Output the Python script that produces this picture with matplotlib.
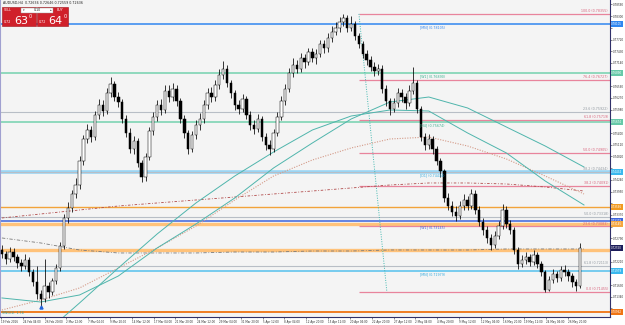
import matplotlib
matplotlib.use("Agg")
import matplotlib.pyplot as plt
import numpy as np
from matplotlib.patches import Rectangle
from matplotlib.ticker import MultipleLocator, FuncFormatter
from matplotlib.transforms import blended_transform_factory

# ---------------- data ----------------
title_text = "AUDUSD,H4  0.72636 0.72646 0.72559 0.72636"

first_open = 0.7250
closes = [0.7240,0.7228,0.7245,0.7232,0.7218,0.7210,0.7225,0.7195,0.7170,0.7140,
0.7128,0.7160,0.7145,0.7172,0.7205,0.7260,0.7330,0.7355,0.7390,0.7410,
0.7470,0.7525,0.7548,0.7530,0.7585,0.7610,0.7595,0.7640,0.7662,0.7630,
0.7618,0.7575,0.7540,0.7500,0.7520,0.7465,0.7430,0.7480,0.7545,0.7580,
0.7610,0.7598,0.7645,0.7630,0.7650,0.7620,0.7575,0.7540,0.7500,0.7535,
0.7560,0.7575,0.7610,0.7640,0.7630,0.7660,0.7685,0.7700,0.7665,0.7640,
0.7610,0.7600,0.7625,0.7585,0.7560,0.7550,0.7575,0.7530,0.7510,0.7500,
0.7540,0.7580,0.7620,0.7650,0.7690,0.7710,0.7700,0.7725,0.7715,0.7740,
0.7725,0.7735,0.7760,0.7750,0.7775,0.7790,0.7800,0.7815,0.7825,0.7800,
0.7810,0.7780,0.7760,0.7735,0.7720,0.7705,0.7695,0.7700,0.7650,0.7620,
0.7600,0.7615,0.7640,0.7630,0.7615,0.7645,0.7665,0.7600,0.7530,0.7510,
0.7525,0.7500,0.7470,0.7445,0.7380,0.7360,0.7345,0.7335,0.7360,0.7375,
0.7360,0.7390,0.7350,0.7320,0.7300,0.7280,0.7262,0.7285,0.7310,0.7350,
0.7315,0.7300,0.7250,0.7215,0.7225,0.7232,0.7220,0.7238,0.7215,0.7195,
0.7152,0.7175,0.7190,0.7180,0.7200,0.7195,0.7185,0.7170,0.7160,0.7255]
highs = [0.7262,0.7248,0.7258,0.7255,0.7240,0.7228,0.7240,0.7232,0.7202,0.7210,
0.7150,0.7228,0.7170,0.7180,0.7215,0.7270,0.7340,0.7368,0.7400,0.7428,
0.7482,0.7535,0.7562,0.7558,0.7595,0.7625,0.7622,0.7652,0.7680,0.7670,
0.7642,0.7625,0.7585,0.7552,0.7532,0.7528,0.7472,0.7490,0.7555,0.7592,
0.7622,0.7625,0.7660,0.7658,0.7665,0.7660,0.7628,0.7585,0.7548,0.7545,
0.7572,0.7590,0.7622,0.7652,0.7655,0.7672,0.7698,0.7718,0.7708,0.7672,
0.7648,0.7622,0.7638,0.7632,0.7595,0.7572,0.7588,0.7582,0.7540,0.7522,
0.7550,0.7592,0.7632,0.7662,0.7702,0.7725,0.7722,0.7738,0.7735,0.7752,
0.7750,0.7748,0.7772,0.7770,0.7788,0.7805,0.7815,0.7828,0.7835,0.7832,
0.7830,0.7818,0.7788,0.7768,0.7745,0.7730,0.7715,0.7712,0.7708,0.7658,
0.7628,0.7628,0.7652,0.7650,0.7640,0.7658,0.7705,0.7672,0.7608,0.7540,
0.7538,0.7532,0.7508,0.7478,0.7450,0.7392,0.7372,0.7358,0.7372,0.7390,
0.7385,0.7402,0.7398,0.7358,0.7330,0.7310,0.7290,0.7298,0.7322,0.7365,
0.7358,0.7325,0.7308,0.7258,0.7238,0.7245,0.7240,0.7250,0.7245,0.7222,
0.7200,0.7185,0.7202,0.7198,0.7210,0.7212,0.7202,0.7192,0.7178,0.7268]
lows = [0.7230,0.7215,0.7220,0.7222,0.7205,0.7198,0.7202,0.7185,0.7160,0.7128,
0.7112,0.7120,0.7130,0.7138,0.7165,0.7198,0.7252,0.7318,0.7345,0.7380,
0.7402,0.7460,0.7515,0.7518,0.7522,0.7575,0.7582,0.7588,0.7630,0.7620,
0.7605,0.7565,0.7530,0.7490,0.7488,0.7455,0.7418,0.7422,0.7472,0.7535,
0.7570,0.7585,0.7590,0.7618,0.7620,0.7608,0.7565,0.7528,0.7488,0.7492,
0.7525,0.7548,0.7565,0.7600,0.7618,0.7620,0.7650,0.7675,0.7655,0.7628,
0.7598,0.7588,0.7592,0.7575,0.7548,0.7538,0.7542,0.7520,0.7498,0.7485,
0.7492,0.7532,0.7572,0.7610,0.7642,0.7680,0.7688,0.7692,0.7702,0.7708,
0.7715,0.7712,0.7728,0.7738,0.7742,0.7765,0.7782,0.7790,0.7805,0.7790,
0.7792,0.7770,0.7750,0.7725,0.7708,0.7695,0.7682,0.7685,0.7640,0.7608,
0.7585,0.7592,0.7605,0.7618,0.7600,0.7608,0.7638,0.7590,0.7520,0.7498,
0.7500,0.7488,0.7460,0.7432,0.7370,0.7348,0.7335,0.7322,0.7328,0.7350,
0.7348,0.7352,0.7340,0.7310,0.7288,0.7268,0.7250,0.7255,0.7278,0.7302,
0.7305,0.7290,0.7240,0.7202,0.7208,0.7215,0.7210,0.7212,0.7205,0.7185,
0.7145,0.7148,0.7168,0.7170,0.7172,0.7185,0.7172,0.7158,0.7148,0.7155]

ma_bars = [0,10,20,30,40,50,60,70,80,90,100,110,120,130,140,150]
ma_teal_slow = [0.71310,0.71210,0.71384,0.71855,0.72550,0.73145,0.73790,0.74534,
                0.75154,0.75749,0.76170,0.76294,0.76022,0.75550,0.75079,0.74558]
ma_fast_bars = [10,20,30,40,50,60,70,80,90,100,110,120,130,140,150]
ma_teal_fast = [0.70342,0.71186,0.72054,0.72897,0.73666,0.74335,0.74930,0.75476,
                0.75823,0.75972,0.75947,0.75402,0.74906,0.74211,0.73616]
ma_salmon = [0.71012,0.71260,0.71558,0.72054,0.72550,0.73095,0.73740,0.74335,
             0.74732,0.75030,0.75253,0.75302,0.75079,0.74757,0.74335,0.73889]
ma_darkred = [0.73294,0.73393,0.73492,0.73591,0.73666,0.73740,0.73814,0.73889,
              0.73963,0.74038,0.74112,0.74162,0.74162,0.74137,0.74062,0.73963]
ma_gray = [0.72798,0.72674,0.72500,0.72426,0.72426,0.72426,0.72450,0.72450,
           0.72475,0.72475,0.72500,0.72500,0.72500,0.72525,0.72525,0.72525]

fib_high = 0.78355
fib_low = 0.71455
fib_anchor_bars = [92, 99.2]
fib_levels = [100.0, 76.4, 61.8, 50.0, 38.2, 23.6, 0.0]

fib2_levels = ["23.6", "38.2", "50.0", "61.8"]
fib2_prices = [0.75922, 0.74434, 0.73318, 0.72113]

level_prices = [0.78105, 0.76890, 0.75674, 0.74434, 0.73566, 0.73219, 0.73145, 0.72500, 0.71979, 0.70962]
level_names = ["[MN]", "[W1]", "[H4]", "[D1]", "", "", "[W1]", "", "[MN]", ""]

current_price = 0.72550
xtick_labels = ["19 Feb 2016", "24 Feb 04:00", "26 Feb 20:00", "2 Mar 12:00", "7 Mar 04:00",
                "9 Mar 20:00", "14 Mar 12:00", "17 Mar 04:00", "21 Mar 20:00", "24 Mar 12:00",
                "29 Mar 04:00", "31 Mar 20:00", "5 Apr 12:00", "8 Apr 04:00", "12 Apr 20:00",
                "15 Apr 12:00", "20 Apr 04:00", "22 Apr 20:00", "27 Apr 12:00", "2 May 04:00",
                "4 May 20:00", "9 May 12:00", "12 May 04:00", "16 May 20:00", "19 May 12:00",
                "24 May 04:00", "26 May 20:00"]
sell_price = ("0.72", "63", "0")
buy_price = ("0.72", "64", "0")
lot_size = "0.10"
indicator_text = "SWG(1): 1.74"

# ---------------- figure ----------------
TINY = 2.3
AXF = 1.95
fig = plt.figure(figsize=(6.25, 3.25), dpi=100, facecolor="white")
ax = fig.add_axes([0.0, 8/325, 610/625, 317/325])
ax.set_facecolor("#f4f4f4")
ax.set_xlim(-0.5, 156.7)
ax.set_ylim(0.70838, 0.78700)

# horizontal level lines (full width)
level_styles = [("#2f86f0", 1.1), ("#8fd9bd", 1.4), ("#8fd9bd", 1.4), ("#9ad6f5", 2.6),
                ("#f2a33a", 1.0), ("#3d64dc", 1.1), ("#ffc27a", 2.4), ("#ffc27a", 2.4),
                ("#6cc8ee", 1.3), ("#ef7414", 1.3)]
label_colors = ["#2f86f0", "#3bb08f", "#3bb08f", "#33aadd", "#f2a33a", "#3d64dc",
                "#3d64dc", "#f2a33a", "#33aadd", "#ef7414"]
for p, (c, lw) in zip(level_prices, level_styles):
    ax.axhline(p, color=c, lw=lw, zorder=1)

# second (gray) fib levels
for lab, p in zip(fib2_levels, fib2_prices):
    ax.axhline(p, color="#b8bec6", lw=0.8, zorder=1)
    ax.text(156.2, p + 0.0002, f"{lab} ({p:.5f})", color="#9098a0", fontsize=TINY,
            ha="right", va="bottom", zorder=5)

# fibonacci retracement
fib_x0 = fib_anchor_bars[0]
for lv in fib_levels:
    p = fib_low + (fib_high - fib_low) * lv / 100.0
    ax.hlines(p, fib_x0, 156.7, color="#e8849c", lw=0.9, zorder=2)
    ax.text(156.2, p + 0.0002, f"{lv:.1f} ({p:.5f})", color="#d9607a", fontsize=TINY,
            ha="right", va="bottom", zorder=5)
ax.plot(fib_anchor_bars, [fib_high, fib_low], color="#44b8b0", lw=0.7, ls=(0, (1, 1.5)), zorder=2)

# level labels
for p, n, c in zip(level_prices, level_names, label_colors):
    if n:
        ax.text(107.7, p - 0.0003, f"{n} ({p:.5f})", color=c, fontsize=TINY,
                ha="left", va="top", zorder=5)

# moving averages
ax.plot(ma_bars, ma_gray, color="#7a7a7a", lw=0.6, ls=(0, (4, 2, 1, 2)), zorder=3)
ax.plot(ma_bars, ma_darkred, color="#b04848", lw=0.6, ls=(0, (3, 2, 1, 2)), zorder=3)
ax.plot(ma_bars, ma_salmon, color="#d49a88", lw=0.8, ls=(0, (1, 1.3)), zorder=3)
ax.plot(ma_bars, ma_teal_slow, color="#4fb5ac", lw=0.7, zorder=3)
ax.plot(ma_fast_bars, ma_teal_fast, color="#4fb5ac", lw=0.7, zorder=3)

# candles
closes_a = np.array(closes)
opens_a = np.array([first_open] + closes[:-1])
idx = np.arange(len(closes_a))
ax.vlines(idx, lows, highs, color="black", lw=0.55, zorder=4)
bottoms = np.minimum(opens_a, closes_a)
heights = np.maximum(np.abs(closes_a - opens_a), 0.00006)
colors = ["white" if c >= o else "black" for o, c in zip(opens_a, closes_a)]
ax.bar(idx, heights, bottom=bottoms, width=0.62, color=colors, edgecolor="black",
       lw=0.35, zorder=4)
ax.plot([int(np.argmin(lows))], [min(lows) - 0.0003], marker="^", color="#2266dd",
        ms=2.2, zorder=5)

# axes styling
ax.spines["top"].set_visible(False)
ax.spines["left"].set_color("#a0a0d0")
ax.spines["right"].set_color("#30306a")
ax.spines["bottom"].set_color("#30306a")
ax.spines["right"].set_linewidth(0.8)
ax.spines["bottom"].set_linewidth(0.8)
ax.yaxis.tick_right()
ax.yaxis.set_major_locator(MultipleLocator(0.0029))

tag_prices_all = level_prices + [current_price]


def price_fmt(v, pos):
    # tick labels that sit under a price tag are hidden (the tag covers them)
    if any(abs(v - t) < 0.0012 for t in tag_prices_all):
        return ""
    return f"{v:.5f}"


ax.yaxis.set_major_formatter(FuncFormatter(price_fmt))
ax.tick_params(axis="y", labelsize=AXF, length=1.2, width=0.4, pad=0.6, colors="#303030")
tick_pos = np.arange(len(xtick_labels)) * 5.62 - 0.25
ax.set_xticks(tick_pos)
ax.set_xticklabels(xtick_labels, ha="left")
ax.tick_params(axis="x", labelsize=AXF, length=1.5, width=0.4, pad=0.5, colors="#303030")

# price tags on the axis
tr = blended_transform_factory(ax.transAxes, ax.transData)
tag_colors = ["#2f86f0", "#66c9a8", "#66c9a8", "#3ab8ee", "#f29a20", "#3d64dc",
              "#f5a640", "#f5a640", "#3ab8ee", "#ef7414"]
for p, c in zip(level_prices, tag_colors):
    if abs(p - current_price) < 0.0008:
        continue
    ax.text(1.002, p, f"{p:.5f}", transform=tr, fontsize=AXF, color="white", ha="left",
            va="center", clip_on=False, bbox=dict(boxstyle="square,pad=0.2", fc=c, ec="none"), zorder=6)
ax.text(1.002, current_price, f"{current_price:.5f}", transform=tr, fontsize=AXF, color="white",
        ha="left", va="center", clip_on=False,
        bbox=dict(boxstyle="square,pad=0.2", fc="#1c1c5a", ec="none"), zorder=7)

# overlay: title and one-click trading panel
ov = fig.add_axes([0, 0, 1, 1], facecolor="none")
ov.set_xlim(0, 625)
ov.set_ylim(325, 0)
ov.axis("off")
ov.text(3, 3.2, title_text, fontsize=TINY, color="#202020", va="center", ha="left")
ov.add_patch(Rectangle((2, 7), 34, 19, fc="#d0202a", ec="#a01018", lw=0.4))
ov.add_patch(Rectangle((37, 7), 31, 19, fc="#d0202a", ec="#a01018", lw=0.4))
ov.add_patch(Rectangle((21, 7.6), 32, 5.2, fc="white", ec="#999999", lw=0.3))
ov.text(4, 10.2, "SELL", fontsize=TINY, color="white", va="center", ha="left")
ov.text(57, 10.2, "BUY", fontsize=TINY, color="white", va="center", ha="left")
ov.text(23.5, 10.2, "▾", fontsize=TINY, color="#444444", va="center", ha="center")
ov.text(50.5, 10.2, "▴", fontsize=TINY, color="#444444", va="center", ha="center")
ov.text(37, 10.2, lot_size, fontsize=TINY, color="#222222", va="center", ha="center")
for x0, (small, big, sup) in [(4, sell_price), (38.5, buy_price)]:
    ov.text(x0, 24, small, fontsize=TINY, color="white", va="bottom", ha="left")
    ov.text(x0 + 10, 26, big, fontsize=8, color="white", va="bottom", ha="left")
    ov.text(x0 + 25, 19.5, sup, fontsize=3.5, color="white", va="bottom", ha="left")
ov.text(2, 313, indicator_text, fontsize=TINY, color="#2a9a90", va="center", ha="left")

fig.savefig("out.png", dpi=100, facecolor="white")
